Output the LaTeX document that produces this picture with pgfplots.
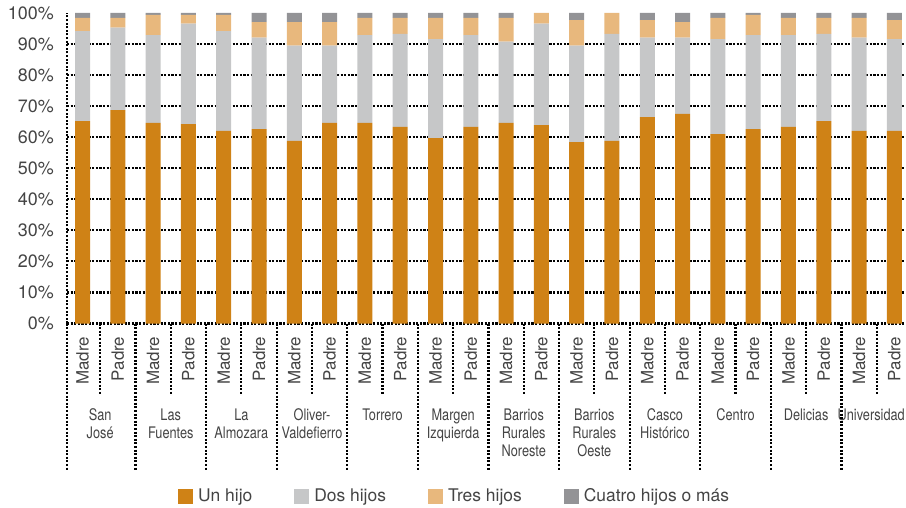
\documentclass[border=0pt]{standalone}
\usepackage{pgfplots}
\usepackage{pgfplotstable}
\pgfplotsset{compat=1.18}
\usepackage{fontspec}
\setmainfont{TeX Gyre Heros}
\definecolor{cUno}{HTML}{CF8216}
\definecolor{cDos}{HTML}{C6C7C8}
\definecolor{cTres}{HTML}{E8B87D}
\definecolor{cCuatro}{HTML}{939396}
\definecolor{txt}{HTML}{444444}
\tikzset{dotl/.style={draw=black, line width=2.2bp, dash pattern=on 2.1bp off 1.5bp}}
\pgfplotstableread{
x uno dos tres cuatro
0  65.2 29.0 4.2 1.6
1  68.7 26.6 3.1 1.6
2  64.6 28.3 6.5 0.6
3  64.2 32.4 2.8 0.6
4  62.0 32.2 5.2 0.6
5  62.6 29.5 5.0 2.9
6  58.8 30.7 7.6 2.9
7  64.6 24.9 7.6 2.9
8  64.6 28.3 5.5 1.6
9  63.3 30.0 5.1 1.6
10 59.7 31.9 6.8 1.6
11 63.3 29.6 5.5 1.6
12 64.6 26.2 7.6 1.6
13 63.9 32.7 3.4 0.0
14 58.4 31.1 8.2 2.3
15 58.8 34.5 6.7 0.0
16 66.5 25.6 5.6 2.3
17 67.5 24.6 5.0 2.9
18 61.0 30.6 6.8 1.6
19 62.6 30.3 6.5 0.6
20 63.3 29.6 5.5 1.6
21 65.2 28.1 5.1 1.6
22 62.0 30.1 6.3 1.6
23 62.0 29.6 6.1 2.3
}\datos
\begin{document}
\begin{tikzpicture}
\useasboundingbox (0,0) rectangle (906bp,508bp);
\begin{axis}[
  at={(67bp,184.5bp)}, anchor=south west,
  scale only axis, width=839bp, height=310.5bp,
  ybar stacked, bar width=15bp,
  xmin=-0.44, xmax=23.33, ymin=0, ymax=100,
  axis x line*=bottom, axis y line*=left,
  axis line style={dotl,-},
  clip=false,
  major tick length=0pt,
  ytick={0,10,...,100},
  yticklabels={0\%,10\%,20\%,30\%,40\%,50\%,60\%,70\%,80\%,90\%,100\%},
  yticklabel style={font=\fontsize{18}{18}\selectfont, text=txt, inner sep=0pt},
  yticklabel shift=13bp,
  extra y ticks={10,20,...,90},
  extra y tick labels={},
  extra y tick style={grid=major, major grid style={dotl}},
  xtick={0,...,23},
  xticklabels={Madre,Padre,Madre,Padre,Madre,Padre,Madre,Padre,Madre,Padre,Madre,Padre,Madre,Padre,Madre,Padre,Madre,Padre,Madre,Padre,Madre,Padre,Madre,Padre},
  xticklabel style={rotate=90, anchor=east, font=\fontsize{17}{18}\selectfont, text=txt, inner sep=0pt},
  xticklabel shift=13bp,
  legend columns=4,
  legend style={at={(0.1323,-0.5556)}, anchor=west, draw=none, fill=none, inner sep=0pt,
    font=\fontsize{17.5}{18}\selectfont, text=txt,
    /tikz/every odd column/.append style={column sep=3bp},
    /tikz/every even column/.append style={column sep=40bp}},
  legend image code/.code={\fill[#1] (0bp,-7.5bp) rectangle (15bp,7.5bp);},
]
\addplot[fill=cUno, draw=none] table[x=x, y=uno] {\datos};
\addplot[fill=cDos, draw=none] table[x=x, y=dos] {\datos};
\addplot[fill=cTres, draw=none] table[x=x, y=tres] {\datos};
\addplot[fill=cCuatro, draw=none] table[x=x, y=cuatro] {\datos};
\legend{Un hijo, Dos hijos, Tres hijos, Cuatro hijos o más}
\pgfplotsinvokeforeach{0,2,...,22}{
  \draw[dotl] (axis cs:#1+0.5,0) -- (axis cs:#1+0.5,-23);
}
\pgfplotsinvokeforeach{1,3,...,23}{
  \draw[dotl] (axis cs:#1+0.5,0) -- (axis cs:#1+0.5,-47.2);
}
\draw[dotl] (axis cs:-0.44,0) -- (axis cs:-0.44,-47.2);
\tikzset{grp/.style={anchor=north, align=center, font=\fontsize{16}{18}\selectfont, text=txt, inner sep=0pt, xscale=0.8, transform shape}}
\node[grp] at (axis cs:0.5,-27.5) {San\\José};
\node[grp] at (axis cs:2.5,-27.5) {Las\\Fuentes};
\node[grp] at (axis cs:4.5,-27.5) {La\\Almozara};
\node[grp] at (axis cs:6.5,-27.5) {Oliver-\\Valdefierro};
\node[grp] at (axis cs:8.5,-27.5) {Torrero};
\node[grp] at (axis cs:10.5,-27.5) {Margen\\Izquierda};
\node[grp] at (axis cs:12.5,-27.5) {Barrios\\Rurales\\Noreste};
\node[grp] at (axis cs:14.5,-27.5) {Barrios\\Rurales\\Oeste};
\node[grp] at (axis cs:16.5,-27.5) {Casco\\Histórico};
\node[grp] at (axis cs:18.5,-27.5) {Centro};
\node[grp] at (axis cs:20.5,-27.5) {Delicias};
\node[grp, anchor=north east] at (axis cs:23.3,-27.5) {Universidad};
\end{axis}
\end{tikzpicture}
\end{document}
